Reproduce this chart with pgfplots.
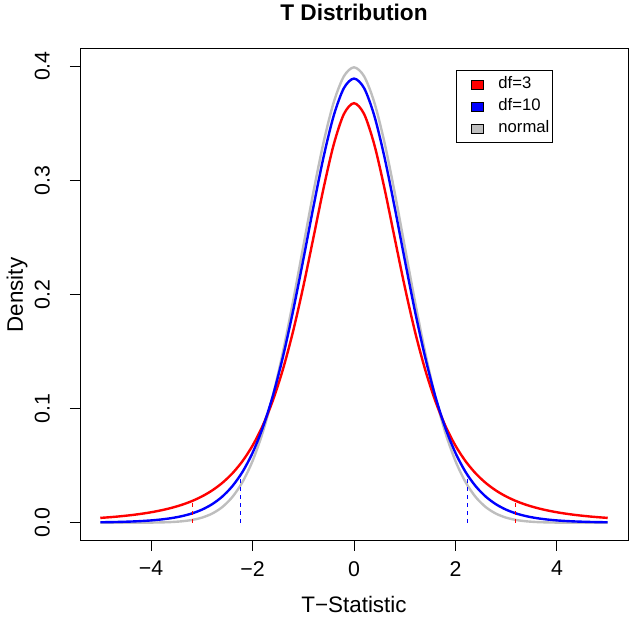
\documentclass[border=0pt]{standalone}
\usepackage{fontspec}
\setmainfont{Liberation Sans}
\usepackage{pgfplots}
\pgfplotsset{compat=1.18}
\definecolor{rgray}{RGB}{190,190,190}
\begin{document}
\begin{tikzpicture}
\useasboundingbox (0,0) rectangle (474pt,462.75pt);
\begin{axis}[
  at={(60pt,57pt)}, anchor=south west,
  scale only axis, width=411pt, height=369pt,
  xmin=-5.4, xmax=5.4, ymin=-0.016, ymax=0.415,
  axis line style={black, line width=0.75pt},
  tick align=outside, major tick length=7.5pt,
  tick style={black, line width=0.75pt},
  xtick={-4,-2,0,2,4}, xticklabels={−4,−2,0,2,4},
  ytick={0,0.1,0.2,0.3,0.4}, yticklabels={0.0,0.1,0.2,0.3,0.4},
  xtick pos=bottom, ytick pos=left,
  ticklabel style={font=\fontsize{16}{19}\selectfont},
  xticklabel style={anchor=north, inner sep=0pt, inner ysep=7.5pt},
  yticklabel style={rotate=90, anchor=south, inner sep=0pt, inner ysep=15pt},
  title={T Distribution},
  title style={font=\bfseries\fontsize{17}{20}\selectfont, at={(axis description cs:0.5,1.059)}, anchor=center},
  xlabel={T−Statistic},
  xlabel style={font=\fontsize{16.8}{20}\selectfont, at={(axis description cs:0.5,-0.1295)}, anchor=center},
  ylabel={Density},
  ylabel style={font=\fontsize{16.8}{20}\selectfont, at={(axis description cs:-0.115,0.5)}, anchor=center},
  legend image code/.code={\path (-8.25pt,0pt); \draw[#1] (0pt,-3.5pt) rectangle (9pt,3.5pt);},
  legend style={at={(0.686,0.957)}, anchor=north west, draw=black, line width=0.75pt,
    inner xsep=2.5pt, inner ysep=5pt, row sep=5.5pt, column sep=11.25pt,
    font=\fontsize{12.5}{15}\selectfont,
    nodes={inner sep=0pt, text height=8.5pt, text depth=2.5pt, anchor=west}},
]
\addlegendimage{fill=red, draw=black, line width=0.5pt}
\addlegendentry{df=3}
\addlegendimage{fill=blue, draw=black, line width=0.5pt}
\addlegendentry{df=10}
\addlegendimage{fill=rgray, draw=black, line width=0.5pt}
\addlegendentry{normal}

% normal
\addplot[rgray, line width=1.8pt, smooth, forget plot] coordinates {
(-5.0,0.00000)(-4.8,0.00000)(-4.6,0.00001)(-4.4,0.00003)(-4.2,0.00006)(-4.0,0.00013)
(-3.8,0.00029)(-3.6,0.00061)(-3.4,0.00123)(-3.2,0.00238)(-3.0,0.00443)(-2.8,0.00792)
(-2.6,0.01358)(-2.4,0.02239)(-2.2,0.03547)(-2.0,0.05399)(-1.8,0.07895)(-1.6,0.11092)
(-1.4,0.14973)(-1.2,0.19419)(-1.0,0.24197)(-0.8,0.28969)(-0.6,0.33322)(-0.4,0.36827)
(-0.2,0.39104)(0.0,0.39894)
(0.2,0.39104)(0.4,0.36827)(0.6,0.33322)(0.8,0.28969)(1.0,0.24197)(1.2,0.19419)
(1.4,0.14973)(1.6,0.11092)(1.8,0.07895)(2.0,0.05399)(2.2,0.03547)(2.4,0.02239)
(2.6,0.01358)(2.8,0.00792)(3.0,0.00443)(3.2,0.00238)(3.4,0.00123)(3.6,0.00061)
(3.8,0.00029)(4.0,0.00013)(4.2,0.00006)(4.4,0.00003)(4.6,0.00001)(4.8,0.00000)(5.0,0.00000)
};
% t, df=3
\addplot[red, line width=1.8pt, smooth, forget plot] coordinates {
(-5.0,0.00422)(-4.8,0.00488)(-4.6,0.00567)(-4.4,0.00662)(-4.2,0.00777)(-4.0,0.00916)
(-3.8,0.01088)(-3.6,0.01299)(-3.4,0.01560)(-3.2,0.01887)(-3.0,0.02297)(-2.8,0.02815)
(-2.6,0.03473)(-2.4,0.04311)(-2.2,0.05382)(-2.0,0.06751)(-1.8,0.08496)(-1.6,0.10701)
(-1.4,0.13446)(-1.2,0.16780)(-1.0,0.20675)(-0.8,0.24967)(-0.6,0.29301)(-0.4,0.33127)
(-0.2,0.35795)(0.0,0.36755)
(0.2,0.35795)(0.4,0.33127)(0.6,0.29301)(0.8,0.24967)(1.0,0.20675)(1.2,0.16780)
(1.4,0.13446)(1.6,0.10701)(1.8,0.08496)(2.0,0.06751)(2.2,0.05382)(2.4,0.04311)
(2.6,0.03473)(2.8,0.02815)(3.0,0.02297)(3.2,0.01887)(3.4,0.01560)(3.6,0.01299)
(3.8,0.01088)(4.0,0.00916)(4.2,0.00777)(4.4,0.00662)(4.6,0.00567)(4.8,0.00488)(5.0,0.00422)
};
% t, df=10
\addplot[blue, line width=1.8pt, smooth, forget plot] coordinates {
(-5.0,0.00040)(-4.8,0.00054)(-4.6,0.00075)(-4.4,0.00104)(-4.2,0.00145)(-4.0,0.00203)
(-3.8,0.00286)(-3.6,0.00403)(-3.4,0.00569)(-3.2,0.00805)(-3.0,0.01140)(-2.8,0.01612)
(-2.6,0.02273)(-2.4,0.03188)(-2.2,0.04438)(-2.0,0.06114)(-1.8,0.08311)(-1.6,0.11108)
(-1.4,0.14539)(-1.2,0.18567)(-1.0,0.23037)(-0.8,0.27663)(-0.6,0.32033)(-0.4,0.35658)
(-0.2,0.38066)(0.0,0.38911)
(0.2,0.38066)(0.4,0.35658)(0.6,0.32033)(0.8,0.27663)(1.0,0.23037)(1.2,0.18567)
(1.4,0.14539)(1.6,0.11108)(1.8,0.08311)(2.0,0.06114)(2.2,0.04438)(2.4,0.03188)
(2.6,0.02273)(2.8,0.01612)(3.0,0.01140)(3.2,0.00805)(3.4,0.00569)(3.6,0.00403)
(3.8,0.00286)(4.0,0.00203)(4.2,0.00145)(4.4,0.00104)(4.6,0.00075)(4.8,0.00054)(5.0,0.00040)
};
% critical values
\addplot[red, line width=0.75pt, dash pattern=on 3pt off 3pt, forget plot] coordinates {(-3.182,0)(-3.182,0.0192)};
\addplot[red, line width=0.75pt, dash pattern=on 3pt off 3pt, forget plot] coordinates {(3.182,0)(3.182,0.0192)};
\addplot[blue, line width=0.75pt, dash pattern=on 3pt off 3pt, forget plot] coordinates {(-2.228,0)(-2.228,0.0424)};
\addplot[blue, line width=0.75pt, dash pattern=on 3pt off 3pt, forget plot] coordinates {(2.228,0)(2.228,0.0424)};
\end{axis}
\end{tikzpicture}
\end{document}
